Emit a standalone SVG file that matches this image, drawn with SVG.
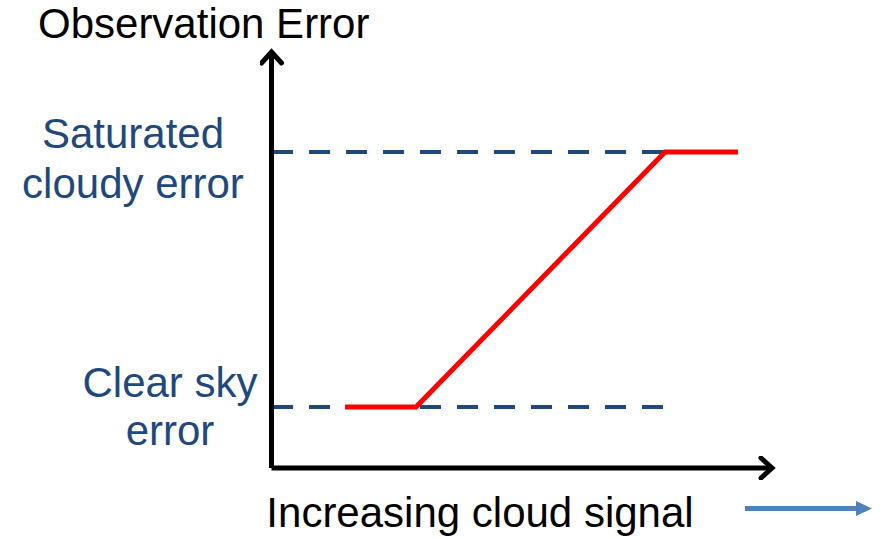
<svg xmlns="http://www.w3.org/2000/svg" width="887" height="539" viewBox="0 0 887 539">
<style>
.t{font-family:"Liberation Sans",Arial,sans-serif;font-size:42px}
.b{fill:#1F497D}
.dash{stroke:#1F497D;stroke-width:4;stroke-dasharray:21 16;fill:none}
.ax{stroke:#000;stroke-width:5;fill:none}
</style>
<defs>
<marker id="chev" viewBox="0 0 24 24" refX="20" refY="12" markerWidth="24" markerHeight="24" markerUnits="userSpaceOnUse" orient="auto">
<path d="M9,2 L20,12 L9,22" fill="none" stroke="#000" stroke-width="5" stroke-linecap="round" stroke-linejoin="miter"/>
</marker>
<marker id="tri" viewBox="0 0 16 16" refX="16" refY="8" markerWidth="16" markerHeight="16" markerUnits="userSpaceOnUse" orient="auto">
<path d="M0,0.5 L16,8 L0,15.5 Z" fill="#4F81BD"/>
</marker>
</defs>
<g id="connectors">
<path class="dash" d="M272,152 H665"/>
<path class="dash" d="M272,407 H665"/>
<path class="ax" d="M271.5,468 V52" marker-end="url(#chev)"/>
<path class="ax" d="M271.5,468 H772" marker-end="url(#chev)"/>
<path d="M345,407 H416 L665,152 H738" fill="none" stroke="#FF0000" stroke-width="5"/>
<path d="M745,508.5 H857" stroke="#4F81BD" stroke-width="5"/>
<path d="M856,501 L872,508.5 L856,516 Z" fill="#4F81BD"/>
</g>
<g id="labels">
<text class="t" x="38" y="38">Observation Error</text>
<text class="t b" x="133" y="148" text-anchor="middle">Saturated</text>
<text class="t b" x="133" y="198" text-anchor="middle">cloudy error</text>
<text class="t b" x="170" y="397" text-anchor="middle">Clear sky</text>
<text class="t b" x="170" y="445" text-anchor="middle">error</text>
<text class="t" x="480" y="527" text-anchor="middle">Increasing cloud signal</text>
</g>
</svg>
